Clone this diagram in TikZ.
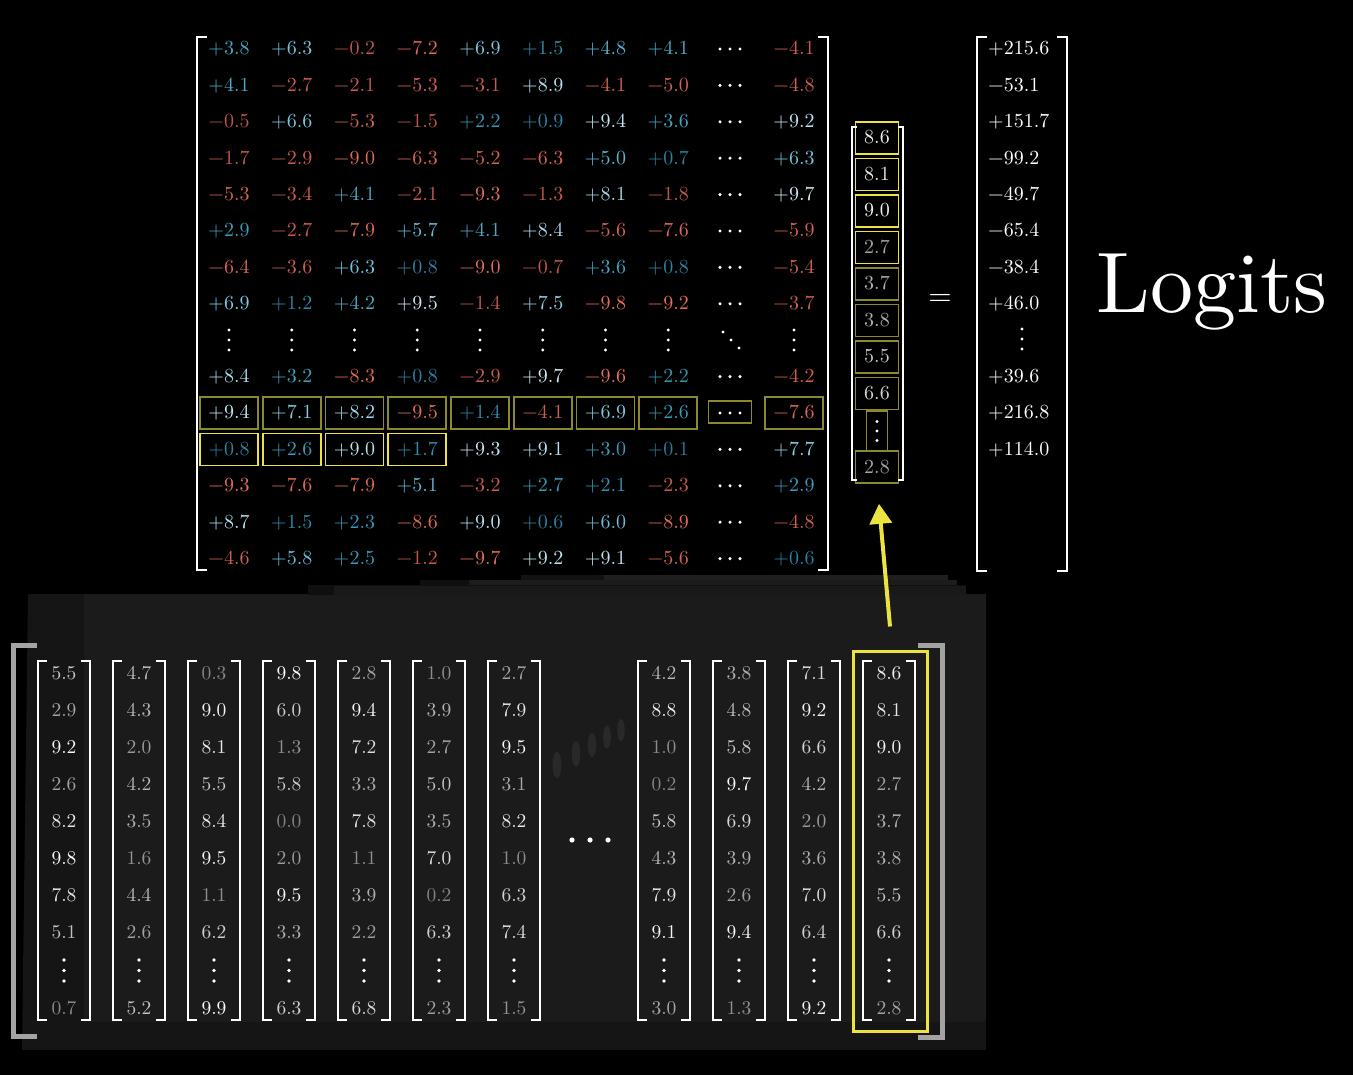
\documentclass[tikz,border=0pt]{standalone}
\usepackage{fontspec}
\setmainfont{lmroman10-regular.otf}[BoldFont=lmroman10-bold.otf]
\usetikzlibrary{arrows.meta}

\definecolor{ybright}{RGB}{236,226,64}
\definecolor{yolive}{RGB}{140,136,46}
\definecolor{panelface}{RGB}{27,27,27}
\definecolor{panelside}{RGB}{21,21,21}

\def\stripminus-#1\relax{#1}
% signed weight, coloured by sign and size
\newcommand\wnum[1]{%
  \pgfmathtruncatemacro\isneg{#1<0}%
  \pgfmathsetmacro\mag{abs(#1)/10}%
  \ifnum\isneg=1
    \pgfmathsetmacro\colR{0.74+0.16*\mag}%
    \pgfmathsetmacro\colG{0.33+0.10*\mag}%
    \pgfmathsetmacro\colB{0.28+0.08*\mag}%
    \definecolor{wc}{rgb}{\colR,\colG,\colB}%
    \textcolor{wc}{−\expandafter\stripminus#1\relax}%
  \else
    \pgfmathsetmacro\colR{0.16+0.1*\mag+0.58*\mag*\mag}%
    \pgfmathsetmacro\colG{0.48+0.45*\mag}%
    \pgfmathsetmacro\colB{0.60+0.5*\mag-0.14*\mag*\mag}%
    \definecolor{wc}{rgb}{\colR,\colG,\colB}%
    \textcolor{wc}{+#1}%
  \fi}
% unsigned entry, grey by size
\newcommand\gnum[1]{%
  \pgfmathsetmacro\gl{0.5+0.05*#1}%
  \definecolor{gc}{gray}{\gl}%
  \textcolor{gc}{#1}}

\begin{document}
\begin{tikzpicture}[x=1pt,y=-1pt,
    wentry/.style={inner sep=0pt,text height=13pt,text depth=1pt,font=\fontsize{20}{24}\selectfont},
    wbox/.style={draw,line width=1.6pt,minimum width=58pt,minimum height=32pt,inner sep=0pt},
    vbox/.style={wentry,draw,line width=1.6pt,minimum width=43pt,minimum height=32pt},
    logit/.style={wentry,anchor=west,text=white},
    gentry/.style={inner sep=0pt,text height=13pt,text depth=1pt,font=\fontsize{19.5}{23}\selectfont},
    bracket/.style={draw=white,line width=2.4pt},
    smallbracket/.style={draw=white,line width=2pt},
    bigbracket/.style={draw=gray!72,line width=5pt},
    dot/.style={fill=white},
    selarrow/.style={draw=ybright,line width=4pt,-{Triangle[width=22pt,length=20pt]}}]

  \useasboundingbox (0,0) rectangle (1353,1075);
  \fill[black] (0,0) rectangle (1353,1075);

  % stack of embeddings behind
  \fill[panelside] (28,594) -- (84,594) -- (84,1022) -- (986,1022) -- (986,1050) -- (22,1050) -- cycle;
  \fill[panelface] (84,594) rectangle (986,1022);
  \fill[gray!12!black] (308,585) rectangle (966,595);
  \fill[gray!20!black] (334,586) rectangle (966,595);
  \fill[gray!12!black] (420,580) rectangle (957,585);
  \fill[gray!22!black] (469,580) rectangle (957,585);
  \fill[gray!14!black] (521,575) rectangle (948,580);
  \fill[gray!24!black] (604,575) rectangle (948,580);

  % unembedding matrix
  \foreach \row [count=\i] in {
      {3.8,6.3,-0.2,-7.2,6.9,1.5,4.8,4.1,-4.1},
      {4.1,-2.7,-2.1,-5.3,-3.1,8.9,-4.1,-5.0,-4.8},
      {-0.5,6.6,-5.3,-1.5,2.2,0.9,9.4,3.6,9.2},
      {-1.7,-2.9,-9.0,-6.3,-5.2,-6.3,5.0,0.7,6.3},
      {-5.3,-3.4,4.1,-2.1,-9.3,-1.3,8.1,-1.8,9.7},
      {2.9,-2.7,-7.9,5.7,4.1,8.4,-5.6,-7.6,-5.9},
      {-6.4,-3.6,6.3,0.8,-9.0,-0.7,3.6,0.8,-5.4},
      {6.9,1.2,4.2,9.5,-1.4,7.5,-9.8,-9.2,-3.7}}
    \foreach \val [count=\j] in \row {
      \pgfmathsetmacro\cx{\j<9 ? 229+(\j-1)*62.75 : 794}
      \pgfmathtruncatemacro\c{\j<9 ? \j : 10}
      \node[wentry] (w-\i-\c) at ({\cx},{49+(\i-1)*36.4}) {\wnum{\val}};
    }
  \foreach \row [count=\i from 10] in {
      {8.4,3.2,-8.3,0.8,-2.9,9.7,-9.6,2.2,-4.2},
      {9.4,7.1,8.2,-9.5,1.4,-4.1,6.9,2.6,-7.6},
      {0.8,2.6,9.0,1.7,9.3,9.1,3.0,0.1,7.7},
      {-9.3,-7.6,-7.9,5.1,-3.2,2.7,2.1,-2.3,2.9},
      {8.7,1.5,2.3,-8.6,9.0,0.6,6.0,-8.9,-4.8},
      {-4.6,5.8,2.5,-1.2,-9.7,9.2,9.1,-5.6,0.6}}
    \foreach \val [count=\j] in \row {
      \pgfmathsetmacro\cx{\j<9 ? 229+(\j-1)*62.75 : 794}
      \pgfmathtruncatemacro\c{\j<9 ? \j : 10}
      \node[wentry] (w-\i-\c) at ({\cx},{49+(\i-1)*36.4}) {\wnum{\val}};
    }
  % dots of the matrix
  \foreach \i in {1,2,3,4,5,6,7,8,10,11,12,13,14,15}
    \foreach \dx in {-10,0,10}
      \fill[dot] ({730+\dx},{49+(\i-1)*36.4}) circle (1.7pt);
  \foreach \cx in {229,291.75,354.5,417.25,480,542.75,605.5,668.25,794}
    \foreach \dy in {-10,0,10}
      \fill[dot] ({\cx},{340+\dy}) circle (1.7pt);
  \foreach \dd in {-8,0,8}
    \fill[dot] ({731+\dd},{340+\dd}) circle (1.7pt);
  \draw[bracket] (207,37) -- (197,37) -- (197,570) -- (207,570);
  \draw[bracket] (818,37) -- (828,37) -- (828,570) -- (818,570);

  % highlighted rows
  \foreach \c in {1,...,8,10}
    \node[wbox,draw=yolive] at (w-11-\c) {};
  \node[wbox,draw=yolive,minimum width=43pt,minimum height=22pt] at (730,412) {};
  \foreach \c in {1,...,4}
    \node[wbox,draw=ybright] at (w-12-\c) {};

  % last embedding as a column
  \foreach \val/\bc [count=\r] in {8.6/ybright,8.1/ybright,9.0/ybright,2.7/ybright,
      3.7/yolive,3.8/yolive,5.5/yolive,6.6/yolive}
    \node[vbox,draw=\bc] (vec-\r) at (877,{138+(\r-1)*36.5}) {\gnum{\val}};
  \node[draw=yolive,line width=1.6pt,minimum width=21pt,minimum height=40pt,inner sep=0pt] (vec-9) at (877,431) {};
  \foreach \dy in {-9.5,0,9.5}
    \fill[dot] (vec-9.center) ++(0,\dy) circle (1.7pt);
  \node[vbox,draw=yolive] (vec-10) at (877,467) {\gnum{2.8}};
  \draw[bracket] (857,127) -- (852,127) -- (852,480) -- (857,480);
  \draw[bracket] (898,127) -- (903,127) -- (903,480) -- (898,480);

  \node[font=\fontsize{30}{30}\selectfont,text=white] (eq) at (940,300) {=};

  % logits
  \foreach \val [count=\r] in {+215.6,−53.1,+151.7,−99.2,−49.7,−65.4,−38.4,+46.0}
    \node[logit] (logit-\r) at (988,{49+(\r-1)*36.4}) {\val};
  \foreach \dy in {-10,0,10}
    \fill[dot] (1022,{339+\dy}) circle (1.7pt);
  \foreach \val [count=\r from 10] in {+39.6,+216.8,+114.0}
    \node[logit] (logit-\r) at (988,{49+(\r-1)*36.4}) {\val};
  \draw[bracket] (987,37) -- (977,37) -- (977,571) -- (987,571);
  \draw[bracket] (1057,37) -- (1067,37) -- (1067,571) -- (1057,571);

  \node[font=\fontsize{86}{90}\selectfont,text=white,inner sep=0pt] (logits) at (1212,292) {Logits};

  % context embeddings
  \foreach \col [count=\k] in {
      {5.5,2.9,9.2,2.6,8.2,9.8,7.8,5.1,0.7},
      {4.7,4.3,2.0,4.2,3.5,1.6,4.4,2.6,5.2},
      {0.3,9.0,8.1,5.5,8.4,9.5,1.1,6.2,9.9},
      {9.8,6.0,1.3,5.8,0.0,2.0,9.5,3.3,6.3},
      {2.8,9.4,7.2,3.3,7.8,1.1,3.9,2.2,6.8},
      {1.0,3.9,2.7,5.0,3.5,7.0,0.2,6.3,2.3},
      {2.7,7.9,9.5,3.1,8.2,1.0,6.3,7.4,1.5},
      {4.2,8.8,1.0,0.2,5.8,4.3,7.9,9.1,3.0},
      {3.8,4.8,5.8,9.7,6.9,3.9,2.6,9.4,1.3},
      {7.1,9.2,6.6,4.2,2.0,3.6,7.0,6.4,9.2},
      {8.6,8.1,9.0,2.7,3.7,3.8,5.5,6.6,2.8}} {
    \pgfmathsetmacro\cx{\k<8 ? 64+(\k-1)*75 : 64+\k*75}
    \foreach \val [count=\r] in \col {
      \pgfmathsetmacro\ry{\r<9 ? 673+(\r-1)*37.1 : 1008}
      \node[gentry] (col-\k-\r) at ({\cx},{\ry}) {\gnum{\val}};
    }
    \foreach \dy in {-10.5,0,10.5}
      \fill[dot] ({\cx},{970.5+\dy}) circle (1.9pt);
    \draw[smallbracket] ({\cx-17},661) -- ({\cx-26},661) -- ({\cx-26},1020) -- ({\cx-17},1020);
    \draw[smallbracket] ({\cx+17},661) -- ({\cx+26},661) -- ({\cx+26},1020) -- ({\cx+17},1020);
  }
  \foreach \dx in {-18,0,18}
    \fill[dot] ({590+\dx},840) circle (2.6pt);
  \foreach \ex/\ey/\rx/\ry in {557/765/4.5/13,576/754/4.3/12.5,592/745/4.1/12,607/737/3.9/11.5,621/730/3.7/11}
    \fill[gray!32!black] (\ex,\ey) ellipse [x radius=\rx pt,y radius=\ry pt];
  \draw[bigbracket] (37,645) -- (13,645) -- (13,1036) -- (37,1036);
  \draw[bigbracket] (918,645) -- (942,645) -- (942,1037) -- (918,1037);

  \node[draw=ybright,line width=3pt,minimum width=74pt,minimum height=380pt,inner sep=0pt] (selcol) at (890,841) {};
  \draw[selarrow] ([yshift=23pt]selcol.north) -- ([xshift=2pt,yshift=-20pt]vec-10.south);
\end{tikzpicture}
\end{document}
